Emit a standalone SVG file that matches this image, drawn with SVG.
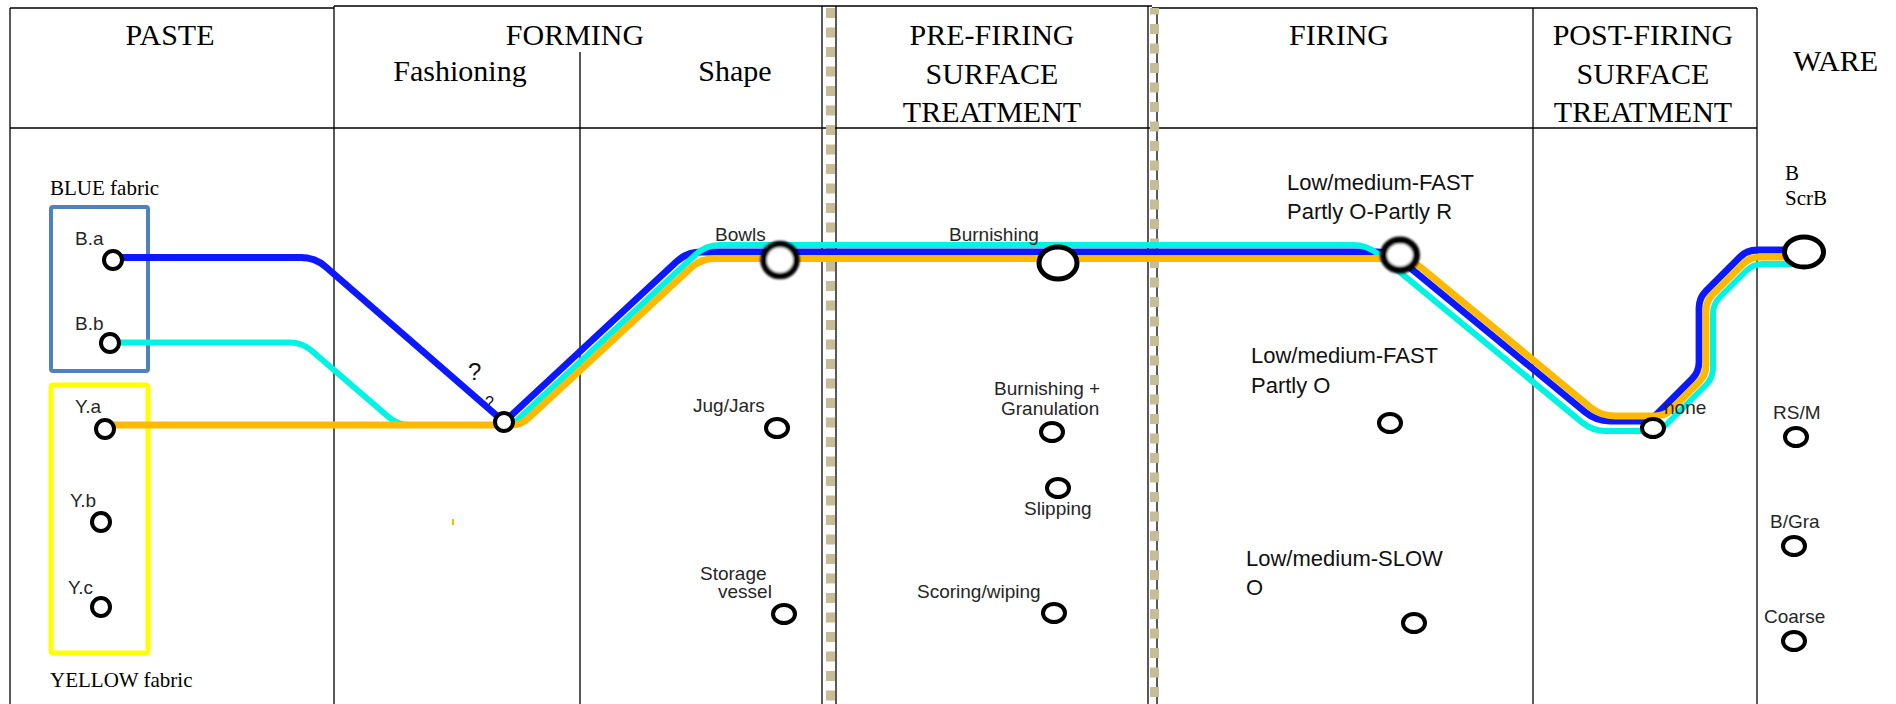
<svg xmlns="http://www.w3.org/2000/svg" width="1896" height="704" viewBox="0 0 1896 704">
  <style>
    .hdr { font-family: "Liberation Serif", "Times New Roman", serif; font-size: 30px; fill: #000; text-anchor: middle; }
    .fab { font-family: "Liberation Serif", "Times New Roman", serif; font-size: 21px; fill: #000; }
    .lbl { font-family: "Liberation Sans", Arial, sans-serif; font-size: 19px; fill: #262626; }
    .fir { font-family: "Liberation Sans", Arial, sans-serif; font-size: 22px; fill: #111; }
    .grid { stroke: #000; stroke-width: 1.3; fill: none; }
    .tan { stroke: #c6bd97; stroke-width: 9; stroke-dasharray: 10 9.5; fill: none; }
    .st { fill: #fff; stroke: #000; stroke-width: 4; }
    .big { fill: #fff; stroke: #000; }
    .ln { fill: none; stroke-linecap: round; stroke-linejoin: round; }
    .blue { stroke: #0c18ff; stroke-width: 6.8; }
    .cyan { stroke: #00f3e3; stroke-width: 6; }
    .orange { stroke: #ffb900; stroke-width: 7; }
  </style>
  <defs>
    <filter id="soft" x="-20%" y="-20%" width="140%" height="140%">
      <feGaussianBlur stdDeviation="0.9"/>
    </filter>
  </defs>

  <rect width="1896" height="704" fill="#fff"/>

  <!-- table frame and column rules -->
  <g id="table">
    <path class="grid" d="M10 8 H334 M334 6 H1152 M1152 8 H1757"/>
    <path class="grid" stroke-width="2" d="M10 128 H1757"/>
    <path class="grid" d="M10 8 V704 M334 6 V704 M580 52 V704 M1533 8 V704"/>
    <path class="grid" stroke="#333" stroke-width="1.5" d="M822 6 V704"/>
    <path class="grid" d="M836 6 V704 M1157 8 V704"/>
    <path class="grid" stroke="#666" stroke-width="2" d="M1148 6 V704 M1757 8 V704"/>
    <path class="tan" d="M830.5 8 V704"/>
    <path class="tan" stroke-dashoffset="3.5" d="M1154.5 8 V704"/>
  </g>

  <!-- stage headings -->
  <g id="headings">
    <text class="hdr" x="170" y="45">PASTE</text>
    <text class="hdr" x="575" y="45">FORMING</text>
    <text class="hdr" x="460" y="81">Fashioning</text>
    <text class="hdr" x="735" y="81">Shape</text>
    <text class="hdr" x="992" y="45">PRE-FIRING</text>
    <text class="hdr" x="992" y="84">SURFACE</text>
    <text class="hdr" x="992" y="122">TREATMENT</text>
    <text class="hdr" x="1339" y="45">FIRING</text>
    <text class="hdr" x="1643" y="45">POST-FIRING</text>
    <text class="hdr" x="1643" y="84">SURFACE</text>
    <text class="hdr" x="1643" y="122">TREATMENT</text>
    <text class="hdr" x="1793" y="71" style="text-anchor:start">WARE</text>
  </g>

  <!-- fabric groups -->
  <g id="blue-fabric">
    <text class="fab" x="50" y="195">BLUE fabric</text>
    <rect x="51" y="207" width="97" height="164" rx="2" fill="none" stroke="#4f81bd" stroke-width="4"/>
  </g>
  <g id="yellow-fabric">
    <rect x="51" y="385" width="97" height="268" rx="2" fill="none" stroke="#ffff00" stroke-width="5"/>
    <text class="fab" x="50" y="687">YELLOW fabric</text>
  </g>

  <!-- uncertainty marks at the fashioning junction -->
  <g id="query-marks">
    <text class="lbl" x="468" y="380" style="font-size:24px;fill:#111">?</text>
    <text class="lbl" x="485" y="408" style="font-size:16px;fill:#111">?</text>
    <rect x="452" y="519" width="2" height="6" fill="#ffb900"/>
  </g>

  <!-- fabric routes -->
  <g id="connectors">
    <path id="route-blue" class="ln blue" d="M113 257.5 H301 Q315 257.5 325.6 266.7 L499.5 418 Q504 422 508.4 417.9 L676.7 261.5 Q687 252 701 252 H1377 Q1391 252 1401.8 260.9 L1585.2 412.1 Q1596 421 1610 421 H1640 Q1650 421 1657 414 L1692 379 Q1699 372 1699 362 V308 Q1699 298 1706 291 L1740 257 Q1747 250 1757 250 H1804"/>
    <path id="route-cyan" class="ln cyan" d="M110 342.5 H290 Q302 342.5 311.1 350.3 L388.9 417.2 Q398 425 410 425 H504 Q512 425 517.1 420.2 L695.7 254.5 Q706 245 720 245 H1353 Q1367 245 1377.8 253.9 L1581.7 422.1 Q1592.5 431 1606 431 H1650 Q1660 431 1667 424 L1706 385 Q1713 378 1713 368 V314 Q1713 304 1720 297 L1746 271 Q1753 264 1763 264 H1804"/>
    <path id="route-orange" class="ln orange" d="M105 425 H511 Q521 425 528.3 418.2 L690.7 268 Q701 258.5 715 258.5 H1396 Q1410 258.5 1420.8 267.4 L1590.2 407.1 Q1601 416 1615 416 H1655 Q1665 416 1672 409 L1699 382 Q1706 375 1706 365 V311 Q1706 301 1713 294 L1743 264 Q1750 257 1760 257 H1804"/>
  </g>

  <!-- paste nodes -->
  <g id="node-ba"><text class="lbl" x="75" y="245">B.a</text><circle class="st" cx="113" cy="260" r="9"/></g>
  <g id="node-bb"><text class="lbl" x="75" y="330">B.b</text><circle class="st" cx="110" cy="343" r="9"/></g>
  <g id="node-ya"><text class="lbl" x="75" y="413">Y.a</text><circle class="st" cx="105" cy="429" r="9"/></g>
  <g id="node-yb"><text class="lbl" x="70" y="507">Y.b</text><circle class="st" cx="101" cy="522" r="9"/></g>
  <g id="node-yc"><text class="lbl" x="68" y="594">Y.c</text><circle class="st" cx="101" cy="607" r="9"/></g>

  <!-- forming nodes -->
  <g id="node-fashioning"><circle class="st" cx="504" cy="422" r="9"/></g>
  <g id="node-bowls"><text class="lbl" x="715" y="241">Bowls</text><ellipse class="big" cx="780" cy="260" rx="16.5" ry="16" stroke-width="6.5" filter="url(#soft)"/></g>
  <g id="node-jugs"><text class="lbl" x="693" y="412">Jug/Jars</text><ellipse class="st" cx="777" cy="428" rx="11" ry="9"/></g>
  <g id="node-storage"><text class="lbl" x="700" y="580">Storage</text><text class="lbl" x="718" y="598">vessel</text><ellipse class="st" cx="784" cy="614" rx="11" ry="9"/></g>

  <!-- pre-firing surface treatment nodes -->
  <g id="node-burnishing"><text class="lbl" x="949" y="241">Burnishing</text><ellipse class="big" cx="1058" cy="263" rx="19" ry="16" stroke-width="5"/></g>
  <g id="node-granulation"><text class="lbl" x="994" y="395">Burnishing +</text><text class="lbl" x="1001" y="415">Granulation</text><ellipse class="st" cx="1052" cy="432" rx="11" ry="9"/></g>
  <g id="node-slipping"><ellipse class="st" cx="1058" cy="488" rx="11" ry="9"/><text class="lbl" x="1024" y="515">Slipping</text></g>
  <g id="node-scoring"><text class="lbl" x="917" y="598">Scoring/wiping</text><ellipse class="st" cx="1054" cy="613" rx="11" ry="9"/></g>

  <!-- firing nodes -->
  <g id="node-fast-or"><text class="fir" x="1287" y="190">Low/medium-FAST</text><text class="fir" x="1287" y="219">Partly O-Partly R</text><ellipse class="big" cx="1400" cy="255" rx="16.5" ry="15" stroke-width="7" filter="url(#soft)"/></g>
  <g id="node-fast-o"><text class="fir" x="1251" y="363">Low/medium-FAST</text><text class="fir" x="1251" y="393">Partly O</text><ellipse class="st" cx="1390" cy="423" rx="11" ry="9"/></g>
  <g id="node-slow-o"><text class="fir" x="1246" y="566">Low/medium-SLOW</text><text class="fir" x="1246" y="595">O</text><ellipse class="st" cx="1414" cy="623" rx="11" ry="9"/></g>

  <!-- post-firing surface treatment node -->
  <g id="node-none"><text class="lbl" x="1664" y="414">none</text><ellipse class="st" cx="1653" cy="428" rx="11" ry="9"/></g>

  <!-- ware nodes -->
  <g id="ware-b-scrb"><text class="fab" x="1785" y="180">B</text><text class="fab" x="1785" y="205">ScrB</text><ellipse class="big" cx="1804" cy="252" rx="19.5" ry="15" stroke-width="5"/></g>
  <g id="ware-rsm"><text class="lbl" x="1773" y="419">RS/M</text><ellipse class="st" cx="1796" cy="437" rx="11" ry="9"/></g>
  <g id="ware-bgra"><text class="lbl" x="1770" y="528">B/Gra</text><ellipse class="st" cx="1794" cy="546" rx="11" ry="9"/></g>
  <g id="ware-coarse"><text class="lbl" x="1764" y="623">Coarse</text><ellipse class="st" cx="1794" cy="641" rx="11" ry="9"/></g>
</svg>
